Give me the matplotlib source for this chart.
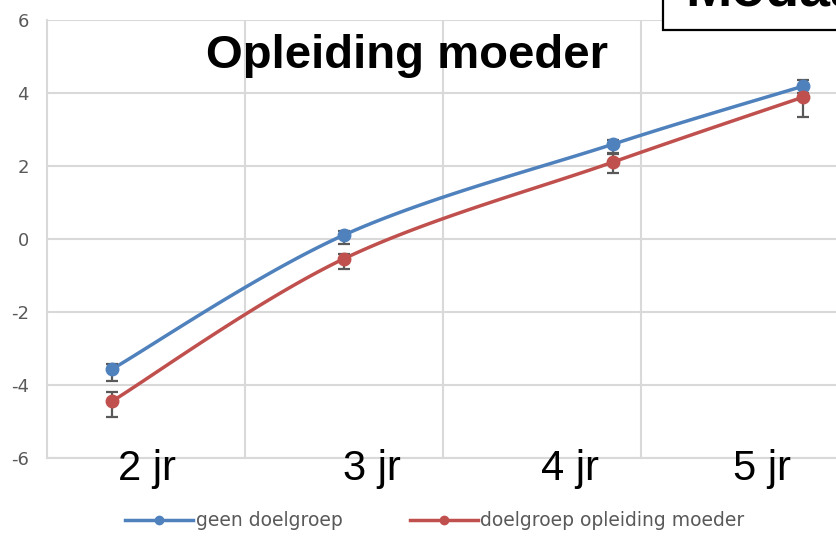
import numpy as np
import matplotlib.pyplot as plt
from matplotlib.patches import Rectangle
from matplotlib.lines import Line2D

plt.rcParams['axes.unicode_minus'] = False

# mean age per measurement (years) and the text shown under the axis
ages = [1.83, 3.0, 4.36, 5.32]
age_labels = ['2 jr', '3 jr', '4 jr', '5 jr']

# geen doelgroep
geen = [-3.56, 0.11, 2.60, 4.19]
geen_lo = [0.33, 0.25, 0.25, 0.38]
geen_hi = [0.14, 0.10, 0.12, 0.17]

# doelgroep opleiding moeder
doel = [-4.44, -0.54, 2.11, 3.89]
doel_lo = [0.44, 0.27, 0.30, 0.55]
doel_hi = [0.25, 0.12, 0.22, 0.10]

BLUE = '#4F81BD'
RED = '#C0504D'
GREY = '#595959'
GRID = '#D9D9D9'


def smooth(x, y, n=40):
    # bezier through the points, like excel's "smoothed line"
    pts = np.column_stack([x, y]).astype(float)
    pad = np.vstack([pts[:1], pts, pts[-1:]])
    t = np.linspace(0, 1, n)[:, None]
    out = []
    for i in range(1, len(pad) - 2):
        p0, p1, p2, p3 = pad[i - 1], pad[i], pad[i + 1], pad[i + 2]
        c1 = p1 + (p2 - p0) / 6
        c2 = p2 - (p3 - p1) / 6
        seg = ((1 - t) ** 3) * p1 + 3 * ((1 - t) ** 2) * t * c1 \
            + 3 * (1 - t) * t ** 2 * c2 + t ** 3 * p2
        out.append(seg)
    out = np.vstack(out)
    return out[:, 0], out[:, 1]


fig = plt.figure(figsize=(8.36, 5.40), dpi=100)
ax = fig.add_axes([47 / 836, 82 / 540, 789 / 836, 438 / 540])

for vals, lo, hi, col in [(geen, geen_lo, geen_hi, BLUE), (doel, doel_lo, doel_hi, RED)]:
    sx, sy = smooth(ages, vals)
    ax.plot(sx, sy, color=col, lw=2.5, zorder=3, solid_capstyle='round')
    ax.errorbar(ages, vals, yerr=[lo, hi], fmt='none', ecolor=GREY,
                elinewidth=1.6, capsize=4.5, capthick=1.6, zorder=4)
    ax.plot(ages, vals, 'o', color=col, ms=9, zorder=5)

ax.set_xlim(1.5, 1.5 + 789 / 198)
ax.set_ylim(-6, 6)
ax.set_yticks(range(-6, 7, 2))
ax.set_xticks([2.5, 3.5, 4.5])
ax.set_xticklabels([])
ax.grid(True, color=GRID, lw=1.5)
ax.set_axisbelow(True)
ax.tick_params(length=0, pad=13, labelsize=13, labelcolor=GREY)
for lab in ax.get_yticklabels():
    lab.set_fontfamily('DejaVu Sans')
for s in ['top', 'right']:
    ax.spines[s].set_visible(False)
for s in ['left', 'bottom']:
    ax.spines[s].set_color(GRID)
    ax.spines[s].set_linewidth(1.5)

# big age labels (text boxes in the original)
label_x_px = [147, 372, 570, 762]
for lx, txt in zip(label_x_px, age_labels):
    fig.text(lx / 836, 60 / 540, txt, ha='center', va='baseline',
             fontsize=30, family='Liberation Sans', color='black')

fig.text(407 / 836, (540 - 68) / 540, 'Opleiding moeder', ha='center',
         va='baseline', fontsize=34, fontweight='bold', family='Liberation Sans')

# partly visible box in the top right corner
fig.patches.append(Rectangle((663 / 836, 510 / 540), 0.5, 0.2, transform=fig.transFigure,
                             facecolor='white', edgecolor='black', lw=1.6, zorder=10))
fig.text(685 / 836, 534 / 540, 'Modaal', ha='left', va='baseline', fontsize=40,
         fontweight='bold', family='Liberation Sans', zorder=11)

handles = [Line2D([], [], color=BLUE, lw=2.5, marker='o', ms=6),
           Line2D([], [], color=RED, lw=2.5, marker='o', ms=6)]
fig.legend(handles, ['geen doelgroep', 'doelgroep opleiding moeder'],
           loc='center', bbox_to_anchor=(435 / 836, 19 / 540), ncol=2, frameon=False,
           labelcolor=GREY, handlelength=3.6, handletextpad=0.15,
           columnspacing=3.6, prop={'family': 'DejaVu Sans', 'size': 13.5})

fig.savefig('out.png', dpi=100)
